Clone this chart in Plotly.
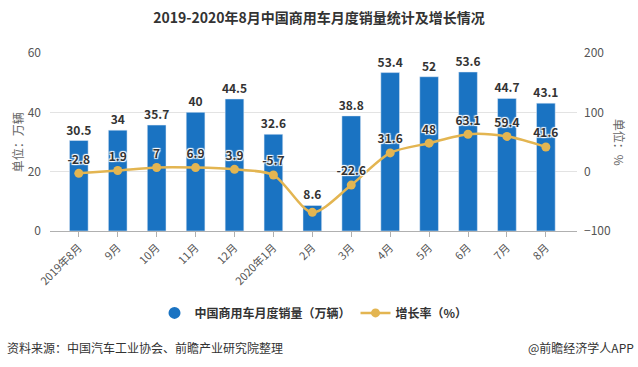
import plotly.graph_objects as go

categories = ["2019年8月", "9月", "10月", "11月", "12月", "2020年1月", "2月",
              "3月", "4月", "5月", "6月", "7月", "8月"]
sales = [30.5, 34, 35.7, 40, 44.5, 32.6, 8.6, 38.8, 53.4, 52, 53.6, 44.7, 43.1]
growth = [-2.8, 1.9, 7, 6.9, 3.9, -5.7, -68.6, -22.6, 31.6, 48, 63.1, 59.4, 41.6]
growth_labels = ["-2.8", "1.9", "7", "6.9", "3.9", "-5.7", "", "-22.6",
                 "31.6", "48", "63.1", "59.4", "41.6"]

BAR = "#1a73c2"
LINE = "#e3b551"
FONT = "Noto Sans CJK SC"

fig = go.Figure()
fig.add_trace(go.Bar(
    x=categories, y=sales, marker_color=BAR, width=0.48,
    text=[f"{v:g}" for v in sales], textposition="outside", constraintext="none",
    textfont=dict(family=FONT, size=12, color="#333333", weight="bold"),
    cliponaxis=False, showlegend=False, name="中国商用车月度销量（万辆）",
))
fig.add_trace(go.Scatter(
    x=[None], y=[None], mode="markers",
    marker=dict(symbol="circle", size=12, color=BAR),
    name="中国商用车月度销量（万辆）",
))
fig.add_trace(go.Scatter(
    x=categories, y=growth, yaxis="y2", mode="lines+markers+text",
    line=dict(color=LINE, width=2.5, shape="spline", smoothing=0.8),
    marker=dict(size=9, color=LINE),
    text=growth_labels, textposition="top center",
    textfont=dict(family=FONT, size=12, color="#333333", weight="bold",
                  shadow="1px 1px 1px #fff, -1px -1px 1px #fff, 1px -1px 1px #fff, -1px 1px 1px #fff"),
    cliponaxis=False, name="增长率（%）",
))

fig.update_layout(
    width=638, height=367,
    margin=dict(l=50, r=61, t=53, b=136),
    paper_bgcolor="white", plot_bgcolor="white",
    font=dict(family=FONT, size=11, color="#555555"),
    title=dict(text="<b>2019-2020年8月中国商用车月度销量统计及增长情况</b>",
               x=0.5, xanchor="center", y=1 - 18 / 367, yanchor="middle",
               font=dict(family=FONT, size=14, color="#333333")),
    xaxis=dict(type="category", range=[-0.74, 12.8], tickangle=-45,
               showline=True, linecolor="#b0b0b0", ticks="outside", ticklen=5,
               tickcolor="#b0b0b0", showgrid=False,
               tickfont=dict(family=FONT, size=11, color="#555555")),
    yaxis=dict(range=[0, 60], tickvals=[0, 20, 40, 60], showgrid=True,
               gridcolor="#e3e3e3", zeroline=False, showline=False,
               tickfont=dict(family=FONT, size=12, color="#555555"), ticklabelstandoff=8),
    yaxis2=dict(range=[-100, 200], tickvals=[-100, 0, 100, 200], overlaying="y",
                side="right", showgrid=False, zeroline=False, showline=False,
                tickfont=dict(family=FONT, size=12, color="#555555"), ticklabelstandoff=6),
    legend=dict(orientation="h", x=0.5, xanchor="center", y=-0.46, yanchor="middle",
                font=dict(family=FONT, size=12, color="#333333", weight="bold"),
                itemwidth=30, bgcolor="rgba(0,0,0,0)"),
    annotations=[
        dict(text="单位：万辆", xref="paper", yref="paper", x=-0.062, y=0.5,
             xanchor="center", yanchor="middle",
             textangle=-90, showarrow=False, font=dict(family=FONT, size=12, color="#666666")),
        dict(text="单位：%", xref="paper", yref="paper", x=1.082, y=0.5,
             xanchor="center", yanchor="middle",
             textangle=90, showarrow=False, font=dict(family=FONT, size=12, color="#666666")),
        dict(text="资料来源：中国汽车工业协会、前瞻产业研究院整理", xref="paper", yref="paper",
             x=-0.085, xanchor="left", y=-0.652, yanchor="middle", showarrow=False,
             font=dict(family=FONT, size=12, color="#333333")),
        dict(text="@前瞻经济学人APP", xref="paper", yref="paper",
             x=1.112, xanchor="right", y=-0.652, yanchor="middle", showarrow=False,
             font=dict(family=FONT, size=12, color="#333333")),
    ],
)

fig.write_html("out.html", config={"displayModeBar": False},
               post_script="document.body.style.margin='0';")
